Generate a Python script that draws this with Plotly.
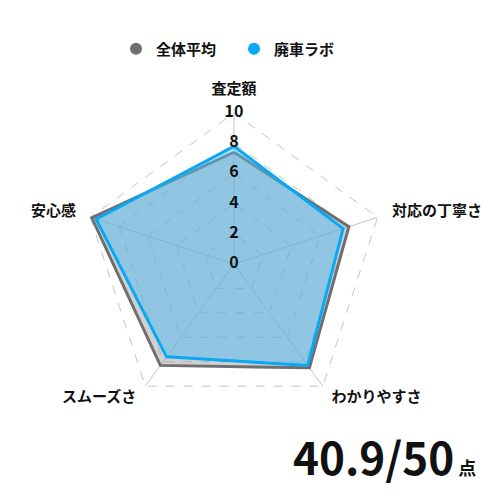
import plotly.graph_objects as go

categories = ["査定額", "対応の丁寧さ", "わかりやすさ", "スムーズさ", "安心感"]
average_values = [7.4, 8.0, 8.5, 8.3, 9.9]
lab_values = [7.8, 7.6, 8.3, 7.6, 9.6]
tick_values = [0, 2, 4, 6, 8, 10]
series_names = ["全体平均", "廃車ラボ"]
max_score = 50

FONT = "Noto Sans CJK JP"
GRAY = "#6f6f6f"
BLUE = "#08a8f4"
GRID = "#c4c4c4"

rmax = max(tick_values)
label_r = rmax * 1.1

fig = go.Figure()

# spokes from centre to the frame
for c in categories:
    fig.add_trace(go.Scatterpolar(
        r=[0, rmax], theta=[c, c], mode="lines",
        line=dict(color=GRID, width=1),
        showlegend=False, hoverinfo="skip",
    ))
fig.add_trace(go.Scatterpolar(
    r=average_values + average_values[:1],
    theta=categories + categories[:1],
    mode="lines", fill="toself",
    line=dict(color=GRAY, width=3),
    fillcolor="rgba(150,150,150,0.45)",
    showlegend=False, hoverinfo="skip",
))
fig.add_trace(go.Scatterpolar(
    r=lab_values + lab_values[:1],
    theta=categories + categories[:1],
    mode="lines", fill="toself",
    line=dict(color=BLUE, width=3),
    fillcolor="rgba(80,188,244,0.5)",
    showlegend=False, hoverinfo="skip",
))
# legend entries (circle markers)
for name, col in zip(series_names, [GRAY, BLUE]):
    fig.add_trace(go.Scatterpolar(
        r=[None], theta=[categories[0]], mode="markers", name=name,
        marker=dict(color=col, size=15, symbol="circle"),
    ))
# radial tick labels centered on the axis
fig.add_trace(go.Scatterpolar(
    r=[v if v > 0 else 0.001 for v in tick_values],
    theta=[categories[0]] * len(tick_values),
    mode="text", text=[str(v) for v in tick_values],
    textposition="middle center",
    textfont=dict(family=FONT, size=16, color="#111111", weight=600),
    showlegend=False, hoverinfo="skip", cliponaxis=False,
))
# category labels just outside the frame
fig.add_trace(go.Scatterpolar(
    r=[label_r] * len(categories), theta=categories,
    mode="text", text=categories,
    textposition=["top center", "middle right", "middle right", "middle left", "middle left"],
    textfont=dict(family=FONT, size=15, color="#111111", weight=600),
    showlegend=False, hoverinfo="skip", cliponaxis=False,
))

total = round(sum(lab_values), 1)

half = 0.3322
fig.update_layout(
    width=500, height=500,
    margin=dict(l=0, r=0, t=0, b=0),
    paper_bgcolor="white", plot_bgcolor="white",
    font=dict(family=FONT, color="#111111"),
    showlegend=True,
    legend=dict(orientation="h", x=0.216, xanchor="left", y=0.918, yanchor="middle",
                font=dict(family=FONT, size=15, color="#111111", weight=600),
                itemsizing="constant", itemwidth=30, entrywidth=73, tracegroupgap=0),
    polar=dict(
        domain=dict(x=[0.452 - half, 0.452 + half], y=[0.488 - half, 0.488 + half]),
        gridshape="linear",
        bgcolor="rgba(0,0,0,0)",
        radialaxis=dict(range=[0, label_r], tickvals=tick_values, showticklabels=False,
                        showline=False, ticks="", gridcolor=GRID, griddash="dash",
                        gridwidth=1),
        angularaxis=dict(rotation=90, direction="clockwise", showline=False,
                         showgrid=False, ticks="", showticklabels=False),
    ),
    annotations=[dict(
        x=0.94, y=0.104, xref="paper", yref="paper", xanchor="right", yanchor="middle",
        showarrow=False,
        text=f"<b>{total}/{max_score}</b><span style='font-size:18px'> <b>点</b></span>",
        font=dict(family=FONT, size=44, color="#111111"),
    )],
)

fig.write_html("out.html")
